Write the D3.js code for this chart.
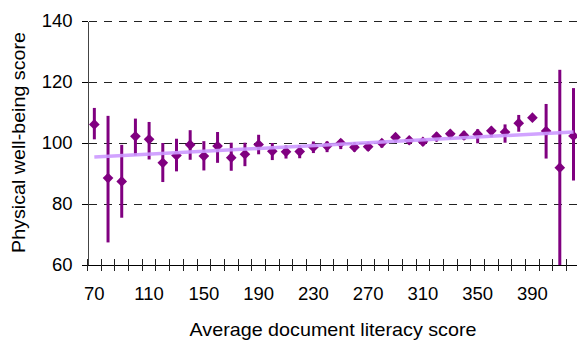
<!DOCTYPE html>
<html lang="en">
<head>
<meta charset="UTF-8">
<title>Physical well-being by document literacy</title>
<script src="https://d3js.org/d3.v7.min.js"></script>
<style>
  body { margin: 0; background: #fff; }
  text { font-family: "Liberation Sans", Arial, sans-serif; fill: #000; }
  .crisp line, .crisp path { shape-rendering: crispEdges; }
</style>
</head>
<body>
<svg width="577" height="340"></svg>
<script>

// literacy score groups (category axis)
const scores = [70, 80, 90, 100, 110, 120, 130, 140, 150, 160, 170, 180,
                190, 200, 210, 220, 230, 240, 250, 260, 270, 280, 290, 300,
                310, 320, 330, 340, 350, 360, 370, 380, 390, 400, 410, 420];
const means = [106.1, 88.5, 87.4, 102.2, 101.2, 93.5, 95.9, 99.4, 95.7, 99.0, 95.2, 96.3,
               99.5, 97.3, 97.1, 97.2, 98.6, 99.0, 100.0, 98.6, 98.8, 100.0, 101.9, 100.9,
               100.4, 102.1, 103.0, 102.5, 102.9, 104.0, 103.6, 106.5, 108.3, 103.9, 91.9, 102.3];
const lows  = [101.2, 67.4, 75.5, 95.9, 94.6, 87.2, 90.7, 94.5, 91.0, 93.5, 90.9, 92.4,
               96.3, 94.4, 94.9, 95.0, 96.7, 97.0, 98.0, 97.2, 97.4, 98.5, 100.2, 99.6,
               99.2, 100.5, 101.8, 101.0, 99.9, 101.9, 100.1, 103.7, 107.5, 94.9, 55.0, 87.7];
const highs = [111.5, 108.9, 99.4, 108.0, 106.9, 100.0, 101.4, 104.2, 100.6, 103.6, 100.1, 100.1,
               102.7, 100.0, 99.2, 99.3, 100.5, 100.5, 101.3, 100.2, 100.3, 100.9, 103.2, 102.0,
               101.4, 103.4, 104.3, 103.8, 104.5, 105.3, 106.1, 109.2, 109.0, 112.8, 124.0, 118.0];
// linear trend line, read at both ends
const trendScores = [70, 420];
const trendValues = [95.4, 103.6];

const xLabels = [70, 110, 150, 190, 230, 270, 310, 350, 390];
const yTicks = [60, 80, 100, 120, 140];

const svg = d3.select("svg");
const plotLeft = 87.5, plotTop = 21, plotBottom = 265;
const step = 13.69;

const x = d3.scaleBand().domain(scores).range([plotLeft, plotLeft + step * scores.length]).padding(0);
const y = d3.scaleLinear().domain([60, 140]).range([plotBottom, plotTop]);
const cx = d => x(d) + x.bandwidth() / 2;

const data = scores.map((s, i) => ({score: s, mean: means[i], low: lows[i], high: highs[i]}));

svg.append("clipPath").attr("id", "plot")
    .append("rect").attr("x", 0).attr("y", 0).attr("width", 577).attr("height", plotBottom);

// dashed gridlines
svg.append("g").attr("class", "crisp")
    .selectAll("line")
    .data(yTicks.filter(d => d > 60))
    .join("line")
    .attr("x1", plotLeft).attr("x2", 577)
    .attr("y1", d => y(d)).attr("y2", d => y(d))
    .attr("stroke", "#222")
    .attr("stroke-width", 1)
    .attr("stroke-dasharray", "8,7")
    .attr("stroke-dashoffset", -1);

// y axis
const yAxis = svg.append("g").attr("class", "crisp")
    .attr("transform", `translate(${plotLeft},0)`)
    .call(d3.axisLeft(y).tickValues(yTicks).tickSize(6).tickSizeOuter(0).tickPadding(9));
yAxis.selectAll("text").attr("font-size", "18.5px").attr("font-family", "Liberation Sans, Arial, sans-serif");
yAxis.select(".domain").attr("stroke", "#444");

// x axis
const xAxis = svg.append("g").attr("class", "crisp")
    .attr("transform", `translate(0,${plotBottom})`)
    .call(d3.axisBottom(x).tickValues(xLabels).tickSize(0).tickSizeOuter(0).tickPadding(22));
xAxis.selectAll("text").attr("font-size", "18.5px").attr("font-family", "Liberation Sans, Arial, sans-serif");
xAxis.select(".domain").attr("stroke", "#000");

// category boundary ticks crossing the x axis
svg.append("g").attr("class", "crisp")
    .selectAll("line")
    .data(d3.range(scores.length + 1))
    .join("line")
    .attr("x1", i => x.range()[0] + i * x.step())
    .attr("x2", i => x.range()[0] + i * x.step())
    .attr("y1", plotBottom - 6).attr("y2", plotBottom + 6)
    .attr("stroke", "#222").attr("stroke-width", 1);

// error bars
svg.append("g").attr("clip-path", "url(#plot)")
    .selectAll("line")
    .data(data)
    .join("line")
    .attr("x1", d => cx(d.score)).attr("x2", d => cx(d.score))
    .attr("y1", d => y(d.low)).attr("y2", d => y(d.high))
    .attr("stroke", "#800080").attr("stroke-width", 3);

// diamond markers
const diamond = d3.symbol().type(d3.symbolSquare).size(57);
svg.append("g")
    .selectAll("path")
    .data(data)
    .join("path")
    .attr("d", diamond)
    .attr("transform", d => `translate(${cx(d.score)},${y(d.mean)}) rotate(45)`)
    .attr("fill", "#800080");

// trend line
svg.append("path")
    .datum(trendScores.map((s, i) => [s, trendValues[i]]))
    .attr("d", d3.line().x(d => cx(d[0])).y(d => y(d[1])))
    .attr("fill", "none")
    .attr("stroke", "#cc99ff")
    .attr("stroke-width", 3.5)
    .attr("stroke-opacity", 0.9);

// axis titles
svg.append("text")
    .attr("x", 333).attr("y", 336)
    .attr("text-anchor", "middle")
    .attr("font-size", "19px")
    .attr("textLength", 287).attr("lengthAdjust", "spacingAndGlyphs")
    .text("Average document literacy score");

svg.append("text")
    .attr("transform", "translate(25,142.5) rotate(-90)")
    .attr("text-anchor", "middle")
    .attr("font-size", "19px")
    .attr("textLength", 221).attr("lengthAdjust", "spacingAndGlyphs")
    .text("Physical well-being score");

</script>
</body>
</html>
